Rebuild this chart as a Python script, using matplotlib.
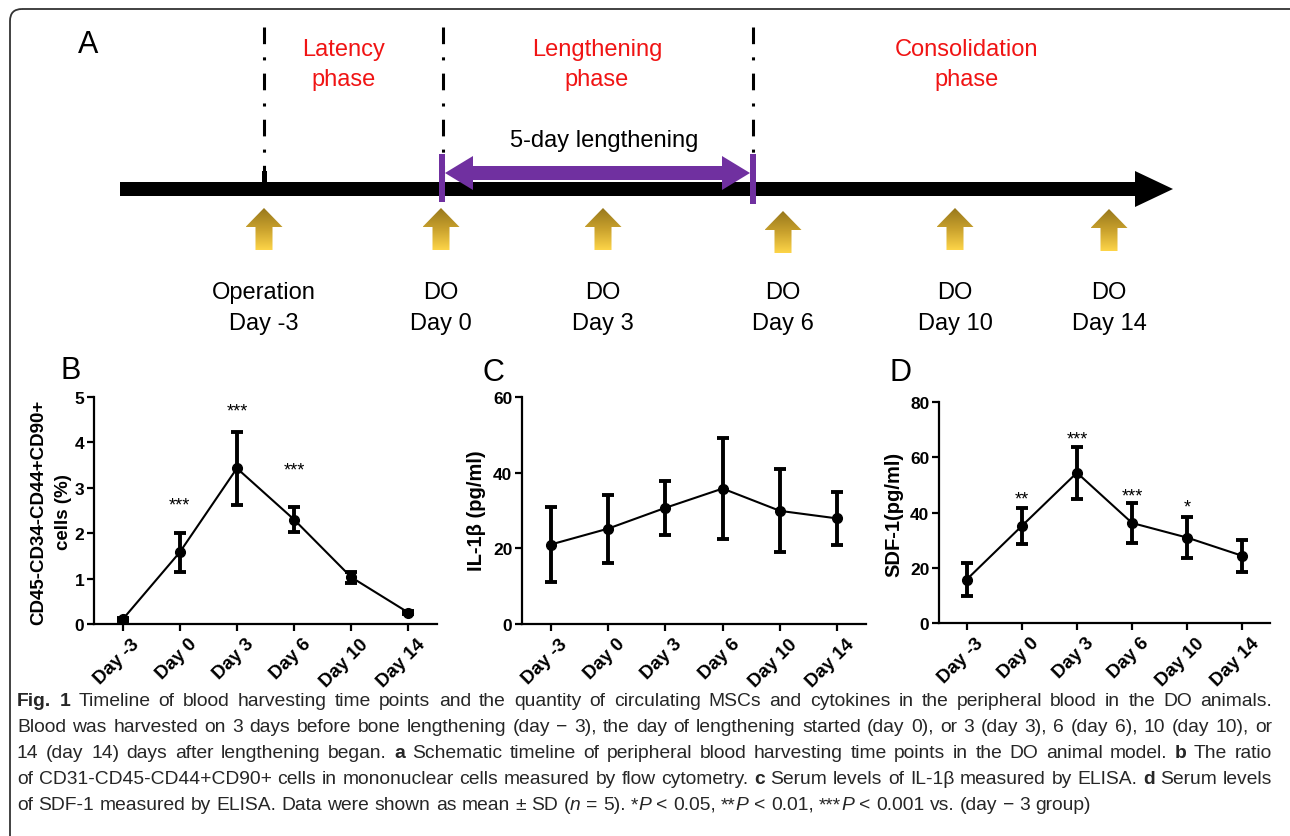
import matplotlib
matplotlib.use('Agg')
import matplotlib.pyplot as plt
import matplotlib.transforms as mtransforms
import numpy as np
from matplotlib import font_manager
from matplotlib.colors import LinearSegmentedColormap
from matplotlib.patches import Polygon, Rectangle, FancyBboxPatch

plt.rcParams['font.family'] = ['Liberation Sans', 'DejaVu Sans']
plt.rcParams['lines.scale_dashes'] = False

# ---------------- data ----------------
days = ['Day -3', 'Day 0', 'Day 3', 'Day 6', 'Day 10', 'Day 14']

# B: CD45-CD34-CD44+CD90+ cells (%)
mscs_mean = [0.10, 1.58, 3.43, 2.30, 1.03, 0.25]
mscs_sd = [0.03, 0.43, 0.80, 0.28, 0.12, 0.03]
mscs_stars = ['', '***', '***', '***', '', '']
mscs_star_y = [0, 2.72, 4.78, 3.48, 0, 0]

# C: IL-1beta (pg/ml)
il1b_mean = [21.0, 25.2, 30.7, 35.8, 29.9, 27.9]
il1b_sd = [9.9, 9.0, 7.2, 13.4, 11.0, 6.9]

# D: SDF-1 (pg/ml)
sdf1_mean = [15.7, 35.1, 54.4, 36.2, 30.9, 24.3]
sdf1_sd = [6.0, 6.6, 9.4, 7.1, 7.4, 5.8]
sdf1_stars = ['', '**', '***', '***', '*', '']
sdf1_star_y = [0, 46.5, 68.0, 47.4, 43.5, 0]

# A: schematic timeline (pixel layout of the drawing)
harvest_x = [264, 441, 603, 783, 955, 1109]
harvest_top = [209, 209, 209, 212, 209, 210]
harvest_first = ['Operation', 'DO', 'DO', 'DO', 'DO', 'DO']
phase_names = [('Latency', 'phase'), ('Lengthening', 'phase'), ('Consolidation', 'phase')]
phase_x = [344, 597, 967]
boundary_x = [264, 443, 753]

caption = [
    [('Fig. 1', 'b'), (' Timeline of blood harvesting time points and the quantity of circulating MSCs and cytokines in the peripheral blood in the DO animals.', 'n')],
    [('Blood was harvested on 3 days before bone lengthening (day \u2212 3), the day of lengthening started (day 0), or 3 (day 3), 6 (day 6), 10 (day 10), or', 'n')],
    [('14 (day 14) days after lengthening began. ', 'n'), ('a', 'b'), (' Schematic timeline of peripheral blood harvesting time points in the DO animal model. ', 'n'), ('b', 'b'), (' The ratio', 'n')],
    [('of CD31-CD45-CD44+CD90+ cells in mononuclear cells measured by flow cytometry. ', 'n'), ('c', 'b'), (' Serum levels of IL-1\u03b2 measured by ELISA. ', 'n'), ('d', 'b'), (' Serum levels', 'n')],
    [('of SDF-1 measured by ELISA. Data were shown as mean \u00b1 SD (', 'n'), ('n', 'i'), (' = 5). *', 'n'), ('P', 'i'), (' < 0.05, **', 'n'), ('P', 'i'), (' < 0.01, ***', 'n'), ('P', 'i'), (' < 0.001 vs. (day \u2212 3 group)', 'n')],
]

# ---------------- figure ----------------
W, H = 1290, 837
fig = plt.figure(figsize=(W / 100, H / 100), dpi=100)

ax0 = fig.add_axes([0, 0, 1, 1])
ax0.set_autoscale_on(False)
ax0.set_xlim(0, W)
ax0.set_ylim(H, 0)
ax0.axis('off')

red = '#f01414'
purple = '#7030a0'

# outer frame
ax0.add_patch(FancyBboxPatch((10, 10), 1292, 850, boxstyle='round,pad=0,rounding_size=12',
                             fc='none', ec='#333333', lw=1.3, zorder=0))

ax0.text(88, 45, 'A', fontsize=22, ha='center', va='center')

# phase boundaries
for bx in boundary_x:
    ax0.plot([bx, bx], [28, 185], color='black', lw=2.2,
             linestyle=(0, (12, 9.5, 2.2, 9.5)), solid_capstyle='butt', zorder=2)
ax0.add_patch(Rectangle((boundary_x[0] - 2.5, 172), 5, 13, fc='black', ec='none', zorder=3))

for (l1, l2), px in zip(phase_names, phase_x):
    ax0.text(px, 50, l1, color=red, fontsize=17, ha='center', va='center')
    ax0.text(px, 80, l2, color=red, fontsize=17, ha='center', va='center')

# main time arrow
ax0.add_patch(Polygon([(120, 183), (1135, 183), (1135, 172), (1173, 190), (1135, 208),
                       (1135, 197), (120, 197)], closed=True, fc='black', ec='none', zorder=3))

# lengthening period
ax0.add_patch(Rectangle((439, 155), 6, 48, fc=purple, ec='none', zorder=4))
ax0.add_patch(Rectangle((750, 155), 6, 50, fc=purple, ec='none', zorder=4))
ax0.add_patch(Polygon([(445, 174), (473, 157), (473, 167), (722, 167), (722, 157), (750, 174),
                       (722, 191), (722, 181), (473, 181), (473, 191)],
                      closed=True, fc=purple, ec='none', zorder=5))
ax0.text(604, 141, '5-day lengthening', fontsize=17, ha='center', va='center')

# harvesting arrows with gold gradient
gold = LinearSegmentedColormap.from_list('gold', ['#98781c', '#c9a12d', '#fdd448'])
grad = np.linspace(0, 1, 100).reshape(-1, 1)
for i, (xc, yt) in enumerate(zip(harvest_x, harvest_top)):
    hw, sw, hh, L = 18.5, 8.5, 19, 42
    pts = [(xc, yt), (xc + hw, yt + hh), (xc + sw, yt + hh), (xc + sw, yt + L),
           (xc - sw, yt + L), (xc - sw, yt + hh), (xc - hw, yt + hh)]
    poly = Polygon(pts, closed=True, fc='none', ec='none')
    ax0.add_patch(poly)
    im = ax0.imshow(grad, cmap=gold, extent=(xc - hw, xc + hw, yt + L, yt), aspect='auto',
                    origin='upper', interpolation='bilinear', zorder=2)
    im.set_clip_path(poly)
    ax0.text(xc, 293, harvest_first[i], fontsize=17, ha='center', va='center')
    ax0.text(xc, 324, days[i], fontsize=17, ha='center', va='center')


# ---------------- panels B, C, D ----------------
def px_axes(left, top, right, bottom):
    return fig.add_axes([left / W, 1 - bottom / H, (right - left) / W, (bottom - top) / H])


def panel(ax, mean, sd, ymax, ystep, stars=None, star_y=None):
    x = np.arange(len(days))
    ax.errorbar(x, mean, yerr=sd, color='black', lw=1.5, marker='o', ms=7,
                elinewidth=2.8, capsize=4.5, capthick=2.8, clip_on=False, zorder=3)
    ax.set_xlim(-0.5, 5.5)
    ax.set_ylim(0, ymax)
    ax.set_yticks(np.arange(0, ymax + 0.01, ystep))
    ax.set_xticks(x)
    ax.set_xticklabels(days, rotation=45, ha='right', va='top', rotation_mode='anchor')
    for s in ['top', 'right']:
        ax.spines[s].set_visible(False)
    for s in ['left', 'bottom']:
        ax.spines[s].set_linewidth(1.6)
    ax.tick_params(direction='out', length=5, width=1.6, labelsize=12.5, pad=2)
    ax.tick_params(axis='x', labelsize=13.5, pad=3)
    off = mtransforms.ScaledTranslation(6 / 72, 0, fig.dpi_scale_trans)
    for lab in ax.get_xticklabels():
        lab.set_fontweight('bold')
        lab.set_transform(lab.get_transform() + off)
    for lab in ax.get_yticklabels():
        lab.set_fontweight('bold')
    if stars:
        for i, (s, sy) in enumerate(zip(stars, star_y)):
            if s:
                ax.annotate(s, (i, sy), xytext=(0, -3), textcoords='offset points',
                            ha='center', va='center', fontsize=13, annotation_clip=False)


axB = px_axes(94, 398, 437, 625)
panel(axB, mscs_mean, mscs_sd, 5, 1, mscs_stars, mscs_star_y)
axC = px_axes(522, 398, 866, 625)
panel(axC, il1b_mean, il1b_sd, 60, 20)
axD = px_axes(939, 403, 1270, 624)
panel(axD, sdf1_mean, sdf1_sd, 80, 20, sdf1_stars, sdf1_star_y)

ax0.text(71, 371, 'B', fontsize=22, ha='center', va='center')
ax0.text(493, 373, 'C', fontsize=22, ha='center', va='center')
ax0.text(900, 373, 'D', fontsize=22, ha='center', va='center')

ax0.text(39, 512, 'CD45-CD34-CD44+CD90+', fontsize=13.5, fontweight='bold', rotation=90,
         ha='center', va='center')
ax0.text(63, 512, 'cells (%)', fontsize=13.5, fontweight='bold', rotation=90,
         ha='center', va='center')
ax0.text(476, 511, 'IL-1\u03b2 (pg/ml)', fontsize=14.5, fontweight='bold', rotation=90,
         ha='center', va='center')
ax0.text(894, 514, 'SDF-1(pg/ml)', fontsize=14.5, fontweight='bold', rotation=90,
         ha='center', va='center')

# ---------------- caption ----------------
names = {f.name for f in font_manager.fontManager.ttflist}
cap_family = 'Liberation Sans Narrow' if 'Liberation Sans Narrow' in names else 'Liberation Sans'
cap_color = '#262626'
cap_x0, cap_x1 = 17, 1272
cap_base = [706, 732, 758, 784, 810]
STYLE = {'n': {}, 'b': {'fontweight': 'bold'}, 'i': {'fontstyle': 'italic'}}
renderer = fig.canvas.get_renderer()


def measure(txt, fs, st):
    t = ax0.text(0, 0, txt, fontsize=fs, family=cap_family, **STYLE[st])
    w = t.get_window_extent(renderer).width
    t.remove()
    return w


def split_words(pieces):
    words = [[]]
    for txt, st in pieces:
        for i, part in enumerate(txt.split(' ')):
            if i > 0:
                words.append([])
            if part:
                words[-1].append((part, st))
    return [w for w in words if w]


def natural_width(pieces, fs):
    words = split_words(pieces)
    sp = measure('a a', fs, 'n') - measure('aa', fs, 'n')
    return sum(measure(p, fs, s) for w in words for p, s in w) + sp * (len(words) - 1)


nat = max(natural_width(c, 12) for c in caption[:4])
cap_fs = 12 * (cap_x1 - cap_x0) * 0.995 / nat

for k, pieces in enumerate(caption):
    words = split_words(pieces)
    widths = [[measure(p, cap_fs, s) for p, s in w] for w in words]
    total = sum(sum(ws) for ws in widths)
    sp = measure('a a', cap_fs, 'n') - measure('aa', cap_fs, 'n')
    if k < 4:
        gap = max((cap_x1 - cap_x0 - total) / (len(words) - 1), 0.6 * sp)
    else:
        gap = sp
    x = cap_x0
    for w, ws in zip(words, widths):
        for (p, s), pw in zip(w, ws):
            ax0.text(x, cap_base[k], p, fontsize=cap_fs, family=cap_family, color=cap_color,
                     ha='left', va='baseline', **STYLE[s])
            x += pw
        x += gap

fig.savefig('out.png', dpi=100)
